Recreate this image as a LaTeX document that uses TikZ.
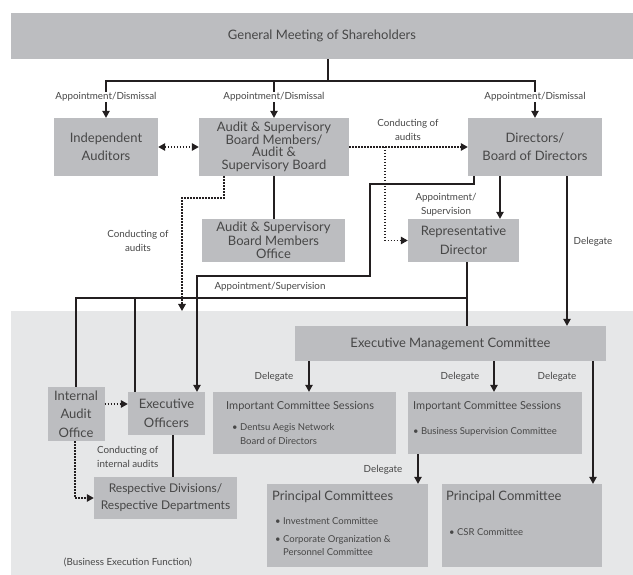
\documentclass[tikz,border=0pt]{standalone}
\usepackage{fontspec}
\setmainfont{Lato}
\usetikzlibrary{arrows.meta}
\definecolor{boxGray}{HTML}{BCBDC0}
\definecolor{areaGray}{HTML}{E6E7E8}
\definecolor{inkGray}{HTML}{474747}
\definecolor{lineInk}{HTML}{231F20}
\begin{document}
\begin{tikzpicture}[x=1pt,y=-1pt,
    box/.style={fill=boxGray,text=inkGray,inner sep=0pt,align=center,font=\fontsize{13}{18.5}\selectfont},
    lbl/.style={text=inkGray,inner sep=1pt,align=center,font=\fontsize{9.8}{14}\selectfont},
    boxTitle/.style={text=inkGray,inner sep=0pt,anchor=west,font=\fontsize{11}{13}\selectfont},
    boxItem/.style={text=inkGray,inner sep=0pt,anchor=west,align=left,font=\fontsize{9.5}{13.5}\selectfont},
    link/.style={draw=lineInk,line width=1.1pt},
    auditLink/.style={draw=lineInk,line width=1.4pt,dash pattern=on 1.4pt off 1.6pt},
    tip/.style={-{Triangle[width=7.5pt,length=7pt]}},
    bothTips/.style={{Triangle[width=7.5pt,length=7pt]}-{Triangle[width=7.5pt,length=7pt]}}]
    \useasboundingbox (0,0) rectangle (633,575);
    \fill[areaGray] (11,311) rectangle (633,575);

    % boxes
    \node[box,minimum width=622pt,minimum height=46pt] (genMeeting) at (322,36) {General Meeting of Shareholders};
    \node[box,minimum width=104pt,minimum height=58pt] (indepAuditors) at (106,147) {Independent\\Auditors};
    \node[box,minimum width=150pt,minimum height=58pt,font=\fontsize{13}{12.5}\selectfont] (auditBoard) at (274,147) {Audit \& Supervisory\\Board Members/\\Audit \&\\Supervisory Board};
    \node[box,minimum width=134pt,minimum height=58pt] (directors) at (535,147) {Directors/\\Board of Directors};
    \node[box,minimum width=143pt,minimum height=43pt,font=\fontsize{13}{13.5}\selectfont] (boardOffice) at (273.5,240.5) {Audit \& Supervisory\\Board Members\\Office};
    \node[box,minimum width=111pt,minimum height=43pt] (repDirector) at (463.5,240.5) {Representative\\Director};
    \node[box,minimum width=311pt,minimum height=35pt] (execCommittee) at (450.5,343.5) {Executive Management Committee};
    \node[box,minimum width=57pt,minimum height=54pt] (internalAudit) at (76,414) {Internal\\Audit\\Office};
    \node[box,minimum width=77pt,minimum height=43pt] (execOfficers) at (166.5,413.5) {Executive\\Officers};
    \node[box,minimum width=143pt,minimum height=42pt,font=\fontsize{12}{17}\selectfont] (divisions) at (165.5,498) {Respective Divisions/\\Respective Departments};
    \node[box,minimum width=183pt,minimum height=62pt] (sessionsLeft) at (304.5,423) {};
    \node[box,minimum width=174pt,minimum height=62pt] (sessionsRight) at (495,423) {};
    \node[box,minimum width=161pt,minimum height=83pt] (principalLeft) at (347.5,525.5) {};
    \node[box,minimum width=160pt,minimum height=83pt] (principalRight) at (522,525.5) {};

    % committee texts
    \node[boxTitle] (sessionsLeftTitle) at (226,406) {Important Committee Sessions};
    \node[boxItem] (sessionsLeftItem) at (232,434) {\textbullet\ Dentsu Aegis Network\\\phantom{\textbullet\ }Board of Directors};
    \node[boxTitle] (sessionsRightTitle) at (413,406) {Important Committee Sessions};
    \node[boxItem] (sessionsRightItem) at (413,432) {\textbullet\ Business Supervision Committee};
    \node[boxTitle,font=\fontsize{13}{15}\selectfont] (principalLeftTitle) at (272,497) {Principal Committees};
    \node[boxItem] (principalLeftItemA) at (275,521) {\textbullet\ Investment Committee};
    \node[boxItem,font=\fontsize{9.5}{13}\selectfont] (principalLeftItemB) at (275,545.5) {\textbullet\ Corporate Organization \&\\\phantom{\textbullet\ }Personnel Committee};
    \node[boxTitle,font=\fontsize{13}{15}\selectfont] (principalRightTitle) at (446,497) {Principal Committee};
    \node[boxItem] (principalRightItem) at (449,532) {\textbullet\ CSR Committee};

    % appointment from the general meeting
    \coordinate (split) at (328,81);
    \draw[link] (genMeeting.south -| split) -- (split);
    \draw[link,tip] (split) -| (indepAuditors.north);
    \draw[link,tip] (split) -| (directors.north);
    \draw[link,tip] (auditBoard.north |- split) -- (auditBoard.north);
    \node[lbl,fill=white] (dismissLeft) at (106,97) {Appointment/Dismissal};
    \node[lbl,fill=white] (dismissMid) at (274,97) {Appointment/Dismissal};
    \node[lbl,fill=white] (dismissRight) at (535,97) {Appointment/Dismissal};

    % audits
    \draw[auditLink,bothTips] (indepAuditors) -- (auditBoard);
    \draw[auditLink,tip] (auditBoard) -- (directors);
    \node[lbl] (auditLabelTop) at (408,130) {Conducting of\\audits};
    \coordinate (auditTap) at (385,147);
    \draw[auditLink,tip] (auditTap) |- (repDirector.west);
    \coordinate (auditBend) at (182,198);
    \coordinate (auditDrop) at (182,311);
    \draw[auditLink,tip] ([xshift=-50pt]auditBoard.south) |- (auditBend) -- (auditDrop);
    \node[lbl] (auditLabelLeft) at (138,240.5) {Conducting of\\audits};
    \draw[link] (auditBoard.south) -- (auditBoard.south |- boardOffice.north);

    % directors
    \draw[link,tip] ([xshift=-35pt]directors.south) -- ([xshift=-35pt]directors.south |- repDirector.north);
    \node[lbl] (supLabelTop) at (446,205) {Appointment/\\Supervision};
    \draw[link,tip] ([xshift=32pt]directors.south) -- ([xshift=32pt]directors.south |- execCommittee.north);
    \node[lbl] (delegateTop) at (593,242) {Delegate};
    \coordinate (dirBendA) at (370,184);
    \coordinate (dirBendB) at (197,276);
    \draw[link,tip] ([xshift=-61pt]directors.south) |- (dirBendA) |- (dirBendB) -- (dirBendB |- execOfficers.north);

    % representative director
    \draw[link] ([xshift=3.5pt]repDirector.south) -- ([xshift=3.5pt]repDirector.south |- execCommittee.north);
    \coordinate (repJoin) at (467,298);
    \coordinate (eoBranch) at (135,298);
    \draw[link] (repJoin) -| (internalAudit.north);
    \draw[link] (eoBranch) -- (eoBranch |- execOfficers.north);
    \node[lbl] (supLabel) at (270,287) {Appointment/Supervision};

    % delegation
    \draw[link,tip] ([xshift=-141.5pt]execCommittee.south) -- ([xshift=-141.5pt]execCommittee.south |- sessionsLeft.north);
    \node[lbl] (delegateA) at (274,377) {Delegate};
    \draw[link,tip] ([xshift=43.5pt]execCommittee.south) -- ([xshift=43.5pt]execCommittee.south |- sessionsRight.north);
    \node[lbl] (delegateB) at (460,377) {Delegate};
    \draw[link,tip] ([xshift=142.5pt]execCommittee.south) -- ([xshift=142.5pt]execCommittee.south |- principalRight.north);
    \node[lbl] (delegateC) at (557,377) {Delegate};
    \draw[link,tip] ([xshift=-77pt]sessionsRight.south) -- ([xshift=-77pt]sessionsRight.south |- principalLeft.north);
    \node[lbl] (delegateD) at (383,470) {Delegate};

    % business execution
    \draw[auditLink,tip] ([yshift=10pt]internalAudit.east) -- ([yshift=10pt]internalAudit.east -| execOfficers.west);
    \draw[auditLink,tip] ([xshift=-1pt]internalAudit.south) |- (divisions.west);
    \draw[link] ([xshift=6.5pt]execOfficers.south) -- ([xshift=6.5pt]execOfficers.south |- divisions.north);
    \node[lbl,align=left,anchor=west] (internalLabel) at (96,456.5) {Conducting of\\internal audits};
    \node[lbl] (areaLabel) at (128,562) {(Business Execution Function)};
\end{tikzpicture}
\end{document}
